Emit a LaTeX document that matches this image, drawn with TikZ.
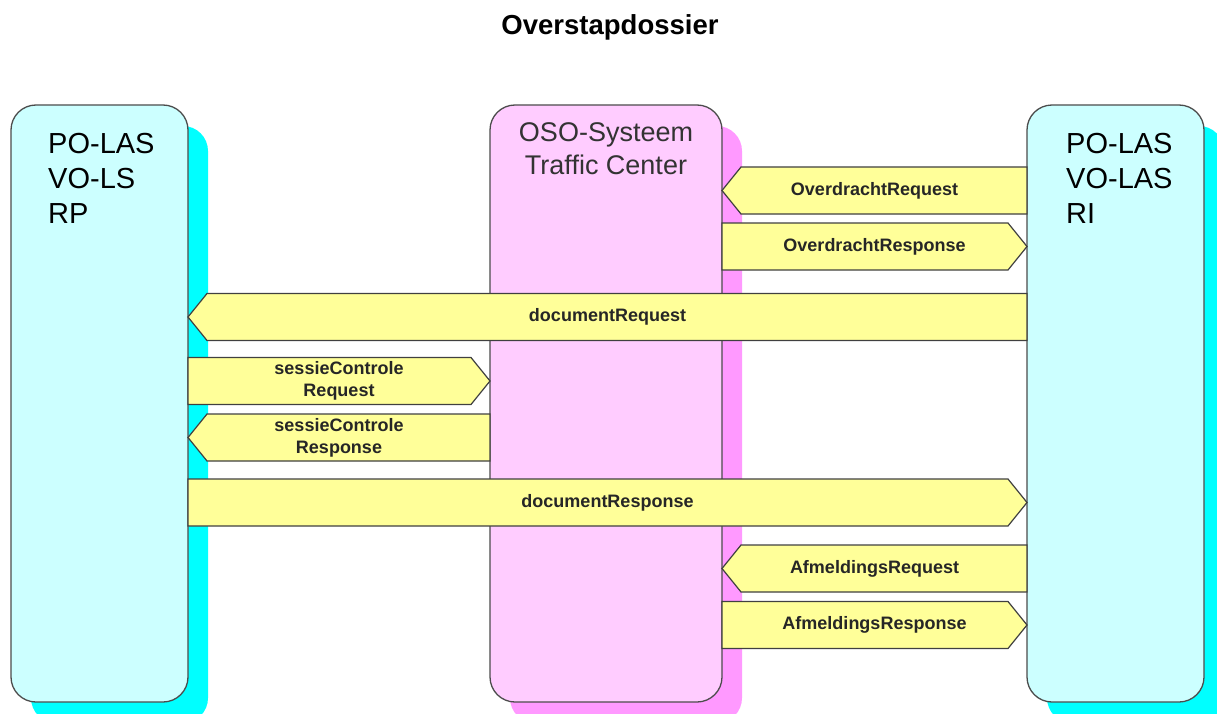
\documentclass[tikz,border=0pt]{standalone}
\usepackage{fontspec}
\setmainfont{Liberation Sans}
\usetikzlibrary{calc, shadows}
\definecolor{lanecyan}{HTML}{CCFFFF}
\definecolor{shadecyan}{HTML}{00FFFF}
\definecolor{lanepink}{HTML}{FFCCFF}
\definecolor{shadepink}{HTML}{FF99FF}
\definecolor{msgyellow}{HTML}{FFFF99}
\tikzset{
lane/.style={draw=black!70, line width=1.3pt, rounded corners=25pt, minimum width=177pt, minimum height=597pt, outer sep=0pt, inner sep=0pt}, % the three swimlanes
laneshadow/.style={drop shadow={shadow xshift=20pt, shadow yshift=-21pt, fill=#1, opacity=1}},
lanetext/.style={font=\fontsize{29}{35}\selectfont, align=left, inner sep=0pt, anchor=north west},
msg/.style={draw=black!75, line width=1.2pt, fill=msgyellow}, % the yellow block arrows
msglabel/.style={font=\fontsize{18}{22}\selectfont\bfseries, text=black!85, align=center},
}
% message pointing left: #1 node at the tip, #2 node at the tail, #3 y, #4 name, #5 text
\newcommand{\msgleft}[5]{%
  \coordinate (#4-tip) at (#1.east |- 0,#3);
  \coordinate (#4-end) at (#2.west |- 0,#3);
  \draw[msg] (#4-tip) -- ([shift={(19,-23.5)}]#4-tip) -- ([shift={(0,-23.5)}]#4-end)
    -- ([shift={(0,23.5)}]#4-end) -- ([shift={(19,23.5)}]#4-tip) -- cycle;
  \node[msglabel] (#4) at ($(#4-tip)!0.5!(#4-end)$) {#5};
}
% message pointing right: #1 node at the tail, #2 node at the tip
\newcommand{\msgright}[5]{%
  \coordinate (#4-end) at (#1.east |- 0,#3);
  \coordinate (#4-tip) at (#2.west |- 0,#3);
  \draw[msg] (#4-end) -- ([shift={(0,-23.5)}]#4-end) -- ([shift={(-19,-23.5)}]#4-tip)
    -- (#4-tip) -- ([shift={(-19,23.5)}]#4-tip) -- ([shift={(0,23.5)}]#4-end) -- cycle;
  \node[msglabel] (#4) at ($(#4-tip)!0.5!(#4-end)$) {#5};
}
\begin{document}
\begin{tikzpicture}[x=1pt, y=-1pt]
    \useasboundingbox (0,0) rectangle (1217,714);
    \node[font=\fontsize{27.5}{30}\selectfont\bfseries, anchor=north, inner sep=0pt] (title) at (610,14) {Overstapdossier};
    % swimlanes
    \node[lane, fill=lanecyan, laneshadow=shadecyan] (rp) at (99.5,403.5) {};
    \node[lane, fill=lanepink, laneshadow=shadepink, minimum width=232pt] (oso) at (606,403.5) {};
    \node[lane, fill=lanecyan, laneshadow=shadecyan] (ri) at (1115.5,403.5) {};
    \node[lanetext] (rptext) at (48,133) {PO-LAS\\VO-LS\\RP};
    \node[lanetext] (ritext) at (1066,133) {PO-LAS\\VO-LAS\\RI};
    \node[lanetext, anchor=north, align=center, font=\fontsize{27}{33}\selectfont, text=black!80] (osotext) at (606,122) {OSO-Systeem\\Traffic Center};
    % messages
    \msgleft{oso}{ri}{190.5}{ovreq}{OverdrachtRequest}
    \msgright{oso}{ri}{246.5}{ovresp}{OverdrachtResponse}
    \msgleft{rp}{ri}{317}{docreq}{documentRequest}
    \msgright{rp}{oso}{381}{sesreq}{sessieControle\\Request}
    \msgleft{rp}{oso}{437.5}{sesresp}{sessieControle\\Response}
    \msgright{rp}{ri}{502.5}{docresp}{documentResponse}
    \msgleft{oso}{ri}{568.5}{afreq}{AfmeldingsRequest}
    \msgright{oso}{ri}{625}{afresp}{AfmeldingsResponse}
\end{tikzpicture}
\end{document}
